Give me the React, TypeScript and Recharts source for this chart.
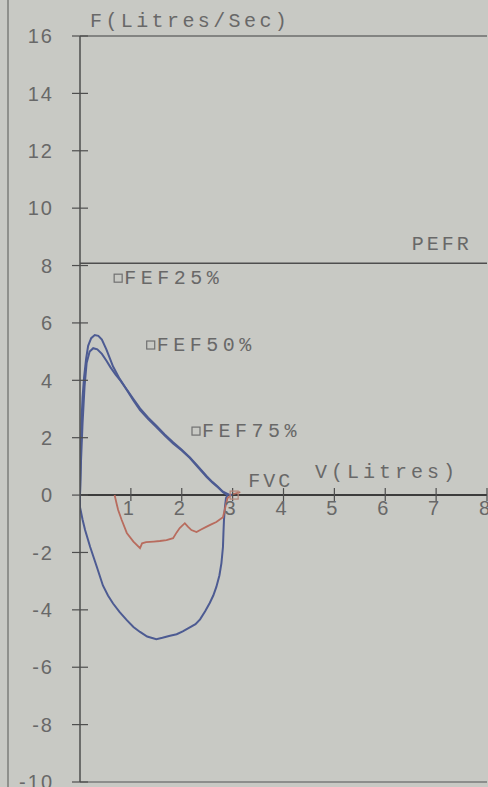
import React from 'react';
import { ComposedChart, Line, XAxis, YAxis, ReferenceLine, ReferenceDot } from 'recharts';

// ---- data ----
const yTicks = [-10, -8, -6, -4, -2, 0, 2, 4, 6, 8, 10, 12, 14, 16];
const xTicks = [1, 2, 3, 4, 5, 6, 7, 8];

// expiration, trial 1 (outer curve)
const exp1Volume = [0, 0.01, 0.02, 0.03, 0.05, 0.08, 0.12, 0.16, 0.22, 0.29, 0.36, 0.43, 0.52, 0.65, 0.78, 0.92, 1.05, 1.18, 1.34, 1.5, 1.66, 1.83, 2.0, 2.16, 2.32, 2.49, 2.6, 2.71, 2.81, 2.9];
const exp1Flow = [0, 1.0, 1.8, 2.6, 3.4, 4.1, 4.75, 5.2, 5.47, 5.58, 5.55, 5.42, 5.07, 4.48, 4.05, 3.66, 3.3, 2.96, 2.65, 2.37, 2.08, 1.8, 1.55, 1.29, 0.97, 0.63, 0.44, 0.27, 0.1, 0.0];

// expiration, trial 2 (inner curve)
const exp2Volume = [0, 0.02, 0.05, 0.09, 0.13, 0.19, 0.26, 0.34, 0.43, 0.52, 0.6, 0.7, 0.8, 0.92, 1.05, 1.18, 1.34, 1.5, 1.66, 1.83, 2.0, 2.16, 2.32, 2.49, 2.6, 2.71, 2.81, 2.92, 3.0];
const exp2Flow = [0, 1.2, 2.5, 3.8, 4.6, 5.0, 5.12, 5.08, 4.92, 4.68, 4.45, 4.2, 3.98, 3.68, 3.35, 3.02, 2.7, 2.42, 2.12, 1.84, 1.58, 1.31, 1.0, 0.66, 0.46, 0.29, 0.12, 0.02, 0.0];

// inspiration, trial 1 (blue loop)
const insp1Volume = [0, 0.0, 0.05, 0.1, 0.2, 0.33, 0.45, 0.55, 0.65, 0.78, 0.92, 1.05, 1.18, 1.32, 1.5, 1.62, 1.77, 1.9, 2.02, 2.15, 2.27, 2.36, 2.46, 2.55, 2.62, 2.68, 2.74, 2.78, 2.81, 2.82, 2.83, 2.85, 2.87, 2.9];
const insp1Flow = [0, -0.42, -0.85, -1.22, -1.81, -2.5, -3.15, -3.5, -3.78, -4.08, -4.36, -4.6, -4.77, -4.93, -5.02, -4.97, -4.9, -4.85, -4.75, -4.62, -4.5, -4.33, -4.05, -3.76, -3.5, -3.2, -2.8, -2.37, -1.81, -1.3, -0.87, -0.4, -0.1, 0];

// inspiration, trial 2 (red line)
const insp2Volume = [0.68, 0.72, 0.75, 0.82, 0.92, 1.05, 1.18, 1.22, 1.3, 1.45, 1.57, 1.7, 1.83, 1.9, 1.96, 2.06, 2.12, 2.19, 2.29, 2.38, 2.49, 2.58, 2.68, 2.81, 2.86, 2.9, 3.0, 3.15];
const insp2Flow = [0, -0.3, -0.52, -0.87, -1.32, -1.62, -1.85, -1.68, -1.64, -1.62, -1.6, -1.57, -1.5, -1.3, -1.15, -0.98, -1.1, -1.22, -1.29, -1.2, -1.1, -1.02, -0.94, -0.77, -0.4, -0.1, 0.03, 0.1];

const markerNames = ['FEF25%', 'FEF50%', 'FEF75%'];
const markerVolume = [0.75, 1.39, 2.28];
const markerFlow = [7.56, 5.23, 2.23];
const pefrFlow = 8.08;
const fvcVolume = 3.03;

const toRows = (v: number[], f: number[]) => v.map((x, i) => ({ v: x, f: f[i] }));
const exp1 = toRows(exp1Volume, exp1Flow);
const exp2 = toRows(exp2Volume, exp2Flow);
const insp1 = toRows(insp1Volume, insp1Flow);
const insp2 = toRows(insp2Volume, insp2Flow);

// ---- styles ----
const BG = '#c8c9c4';
const AXIS = '#4e4e4e';
const TEXT = '#686868';
const BLUE = '#4d5b92';
const RED = '#b86c5e';
const MONO = "'Liberation Mono', 'DejaVu Sans Mono', monospace";
const SANS = "'Liberation Sans', Arial, sans-serif";

const YTick = (props: any) => {
  const { x, y, payload } = props;
  return (
    <g>
      <line x1={x - 8} x2={x + 8} y1={y} y2={y} stroke={AXIS} strokeWidth={1.2} />
      <text x={x - 26} y={y} dy="0.36em" textAnchor="end" fontFamily={SANS} fontSize={20} letterSpacing={2} fill={TEXT}>
        {payload.value}
      </text>
    </g>
  );
};

const xTickShape = (label: number) => (p: any) => (
  <g>
    <line x1={p.cx} x2={p.cx} y1={p.cy - 7} y2={p.cy + 6} stroke={AXIS} strokeWidth={1.2} />
    <text x={p.cx + 3} y={p.cy + 20} textAnchor="end" fontFamily={SANS} fontSize={20} fill={TEXT}>
      {label}
    </text>
  </g>
);

const markerShape = (name: string) => (p: any) => (
  <g>
    <rect x={p.cx - 4} y={p.cy - 4} width={8} height={8} fill="none" stroke="#707070" strokeWidth={1.2} />
    <text x={p.cx + 6} y={p.cy + 6} fontFamily={MONO} fontSize={20} letterSpacing={4.5} fill={TEXT}>
      {name}
    </text>
  </g>
);

const fvcShape = (p: any) => (
  <g>
    <rect x={p.cx - 4} y={p.cy - 4} width={8} height={8} fill="none" stroke="#b58478" strokeWidth={1.2} />
    <text x={p.cx + 14} y={p.cy - 8} fontFamily={MONO} fontSize={20} letterSpacing={3} fill={TEXT}>
      FVC
    </text>
  </g>
);

const pefrShape = (p: any) => (
  <text x={p.cx} y={p.cy - 13} textAnchor="end" fontFamily={MONO} fontSize={20} letterSpacing={3} fill={TEXT}>
    PEFR
  </text>
);

const vTitleShape = (p: any) => (
  <text x={p.cx} y={p.cy - 17} fontFamily={MONO} fontSize={20} letterSpacing={4} fill={TEXT}>
    V(Litres)
  </text>
);

const fTitleShape = (p: any) => (
  <text x={p.cx + 10} y={p.cy - 9} fontFamily={MONO} fontSize={20} letterSpacing={3.4} fill={TEXT}>
    F(Litres/Sec)
  </text>
);

export default function App() {
  return (
    <div style={{ position: 'absolute', left: 0, top: 0, width: 488, height: 787, background: BG, overflow: 'hidden' }}>
      <div style={{ position: 'absolute', left: 7, top: 0, width: 1.5, height: 787, background: '#8f908c' }} />
      <ComposedChart width={488} height={787} margin={{ top: 36, right: 1, bottom: 5, left: 0 }}>
        <XAxis type="number" dataKey="v" domain={[0, 8]} hide allowDataOverflow />
        <YAxis
          type="number"
          domain={[-10, 16]}
          ticks={yTicks}
          interval={0}
          width={80}
          allowDataOverflow
          tickSize={0}
          tickMargin={0}
          tickLine={false}
          axisLine={{ stroke: AXIS, strokeWidth: 1.5 }}
          tick={<YTick />}
        />
        <ReferenceLine y={16} stroke="#6c6c6c" strokeWidth={1.5} />
        <ReferenceLine y={-10} stroke="#7a7a7a" strokeWidth={1.5} />
        <ReferenceLine y={pefrFlow} stroke={AXIS} strokeWidth={1.6} />
        <ReferenceLine y={0} stroke="#3c3c3c" strokeWidth={2} />

        <Line data={insp1} dataKey="f" type="linear" stroke={BLUE} strokeWidth={2} dot={false} isAnimationActive={false} />
        <Line data={insp2} dataKey="f" type="linear" stroke={RED} strokeWidth={1.8} dot={false} isAnimationActive={false} />
        <Line data={exp2} dataKey="f" type="linear" stroke={BLUE} strokeWidth={2} dot={false} isAnimationActive={false} />
        <Line data={exp1} dataKey="f" type="linear" stroke={BLUE} strokeWidth={2} dot={false} isAnimationActive={false} />

        {xTicks.map((t) => (
          <ReferenceDot key={'xt' + t} x={t} y={0} r={0} shape={xTickShape(t)} />
        ))}
        {markerNames.map((n, i) => (
          <ReferenceDot key={n} x={markerVolume[i]} y={markerFlow[i]} r={4} shape={markerShape(n)} />
        ))}
        <ReferenceDot x={fvcVolume} y={0} r={4} shape={fvcShape} />
        <ReferenceDot x={7.7} y={pefrFlow} r={0} shape={pefrShape} />
        <ReferenceDot x={4.62} y={0} r={0} shape={vTitleShape} />
        <ReferenceDot x={0} y={16} r={0} shape={fTitleShape} />
      </ComposedChart>
    </div>
  );
}
